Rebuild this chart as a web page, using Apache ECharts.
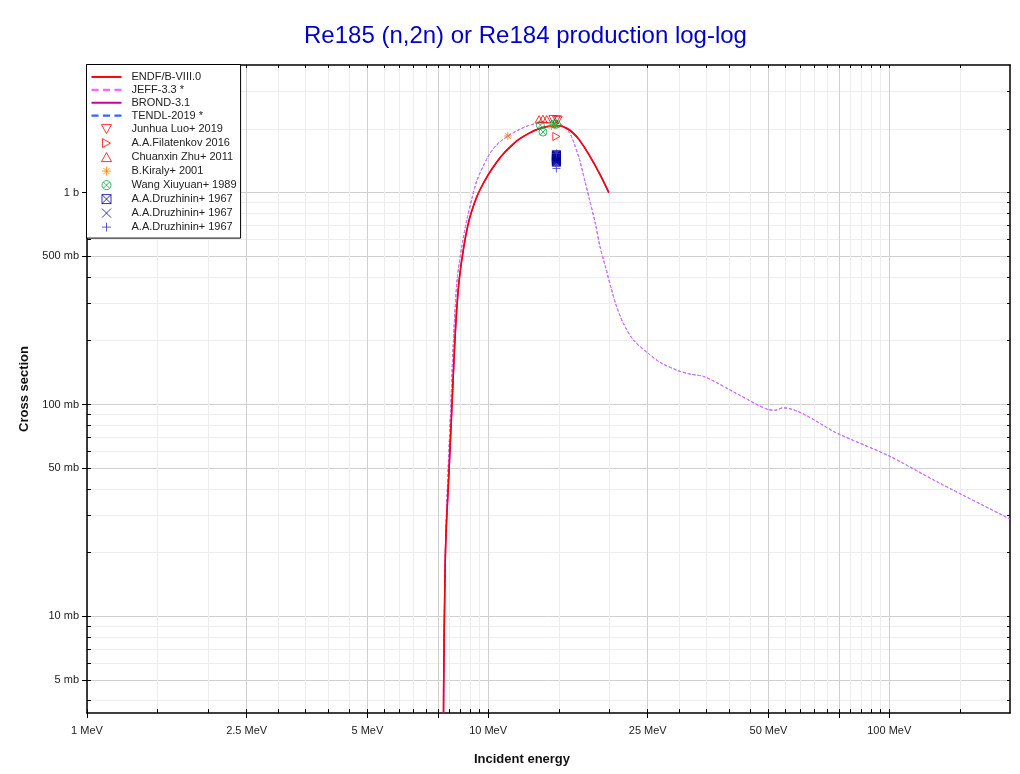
<!DOCTYPE html>
<html>
<head>
<meta charset="utf-8">
<script src="https://cdn.jsdelivr.net/npm/echarts@6/dist/echarts.min.js"></script>
<style>
html,body{margin:0;padding:0;background:#fff;}
#chart{width:1020px;height:774px;}
</style>
</head>
<body>
<div id="chart"></div>
<script>
// ---------------- data (energy in MeV, cross section in mb) ----------------
const endfE = [7.72, 7.745, 7.8, 7.85, 7.97, 8.11, 8.25, 8.34, 8.47, 8.7, 8.97, 9.27, 9.53, 10.0, 10.5, 11.0, 11.6, 12.0, 12.7, 13.5, 14.2, 15.0, 15.7, 16.3, 16.9, 17.9, 19.0, 20.0];
const endfS = [0.5, 4.4, 14, 24, 44, 91, 188, 270, 388, 557, 744, 906, 1026, 1212, 1390, 1548, 1707, 1795, 1914, 2010, 2056, 2067, 2011, 1909, 1768, 1495, 1220, 1000];

const brondE = [7.72, 7.745, 7.8, 7.85, 7.97, 8.11, 8.25, 8.34, 8.47, 8.7, 8.97, 9.27, 9.53, 10.0, 10.5, 11.0, 11.6, 12.0, 12.7, 13.5, 14.2, 15.0, 15.7, 16.3, 16.9, 17.9, 19.0, 20.0];
const brondS = [0.5, 4.4, 14, 24, 44, 91, 188, 270, 388, 557, 744, 906, 1026, 1212, 1390, 1548, 1707, 1795, 1914, 2010, 2056, 2067, 2011, 1909, 1768, 1495, 1220, 1000];

const jeffE = [7.72, 7.745, 7.8, 7.85, 7.95, 8.06, 8.18, 8.37, 8.6, 8.85, 9.14, 9.39, 10.0, 10.5, 11.2, 12.0, 12.7, 13.7, 14.5, 15.1, 15.6, 16.0, 16.4, 16.9, 17.4, 17.9, 18.5, 19.0, 19.6, 20.2, 20.9, 21.7, 23.0, 25.0, 27.0, 29.9, 32.0, 34.7, 41.5, 49.9, 52.0, 54.3, 75.1, 100, 133, 200];
const jeffS = [0.5, 4.4, 15, 26, 50, 91, 188, 388, 557, 744, 960, 1148, 1480, 1680, 1850, 1990, 2080, 2140, 2140, 2110, 2000, 1900, 1700, 1430, 1150, 924, 718, 557, 448, 361, 290, 243, 202, 175, 157, 144, 139, 135, 113, 94.7, 94.0, 96.4, 72.3, 57.1, 42.7, 28.8];

const tendlE = [7.72, 7.745, 7.8, 7.85, 7.95, 8.06, 8.18, 8.37, 8.6, 8.85, 9.14, 9.39, 10.0, 10.5, 11.2, 12.0, 12.7, 13.7, 14.5, 15.1, 15.6, 16.0, 16.4, 16.9, 17.4, 17.9, 18.5, 19.0, 19.6, 20.2, 20.9, 21.7, 23.0, 25.0, 27.0, 29.9, 32.0, 34.7, 41.5, 49.9, 52.0, 54.3, 75.1, 100, 133, 200];
const tendlS = [0.5, 4.4, 15, 26, 50, 91, 188, 388, 557, 744, 960, 1148, 1480, 1680, 1850, 1990, 2080, 2140, 2140, 2110, 2000, 1900, 1700, 1430, 1150, 924, 718, 557, 448, 361, 290, 243, 202, 175, 157, 144, 139, 135, 113, 94.7, 94.0, 96.4, 72.3, 57.1, 42.7, 28.8];

const luoE = [14.5, 14.8, 14.95];
const luoS = [2220, 2215, 2205];
const filatE = [14.8];
const filatS = [1840];
const zhuE = [13.4, 13.7, 14.0];
const zhuS = [2220, 2230, 2220];
const kiralyE = [11.2, 14.4, 14.7];
const kiralyS = [1850, 2060, 2080];
const wangE = [13.5, 13.7, 14.6, 14.8];
const wangS = [2080, 1930, 2110, 2100];
const druz1E = [14.8, 14.8, 14.8, 14.8, 14.8, 14.8, 14.8, 14.8, 14.8];
const druz1S = [1510, 1495, 1480, 1465, 1450, 1435, 1420, 1405, 1390];
const druz2E = [14.8];
const druz2S = [1465];
const druz3E = [14.8, 14.8];
const druz3S = [1530, 1300];

// ---------------- axes ----------------
const xRange = [1, 200];
const yRange = [3.5, 4000];
const xLabelTicks = [1, 2.5, 5, 10, 25, 50, 100];
const xMajorTicks = [1, 2.5, 5, 7.5, 10, 25, 50, 75, 100];
const xMinorTicks = [1.5, 2, 3, 3.5, 4, 4.5, 5.5, 6, 6.5, 7, 8, 8.5, 9, 9.5, 15, 20, 30, 35, 40, 45, 55, 60, 65, 70, 80, 85, 90, 95, 150];
const yLabelTicks = [5, 10, 50, 100, 500, 1000];
const yMinorTicks = [4, 6, 7, 8, 9, 20, 30, 40, 60, 70, 80, 90, 200, 300, 400, 600, 700, 800, 900, 2000, 3000];

const FONT = '"Liberation Sans", Arial, Helvetica, sans-serif';
const L = v => Math.log10(v);
const pairs = (xs, ys) => xs.map((x, i) => [x, ys[i]]);

const fmtX = v => (Math.round(Math.pow(10, v) * 100) / 100) + ' MeV';
const fmtY = v => { const s = Math.round(Math.pow(10, v) * 100) / 100; return s >= 1000 ? (s / 1000) + ' b' : s + ' mb'; };

function helper(base, extra) {
  return Object.assign({
    type: 'value', gridIndex: 0, silent: true,
    axisLine: {show: false}, axisTick: {show: false},
    axisLabel: {show: false}, splitLine: {show: false}
  }, base, extra);
}
const xb = {min: L(xRange[0]), max: L(xRange[1])};
const yb = {min: L(yRange[0]), max: L(yRange[1])};
const AX_LINE = {show: true, lineStyle: {color: '#000', width: 1.5}};

const xAxes = [
  {type: 'log', logBase: 10, min: xRange[0], max: xRange[1], gridIndex: 0, position: 'bottom',
   axisLine: {show: false}, axisTick: {show: false}, axisLabel: {show: false}, splitLine: {show: false}},
  helper(xb, {position: 'bottom', axisLine: AX_LINE,
    axisTick: {show: true, inside: false, length: 5, customValues: xMajorTicks.map(L), lineStyle: {color: '#000', width: 1}},
    axisLabel: {show: true, customValues: xLabelTicks.map(L), formatter: fmtX, margin: 12, fontSize: 11, color: '#222', fontFamily: FONT},
    splitLine: {show: true, lineStyle: {color: '#d0d0d0', width: 1}},
    name: 'Incident energy', nameLocation: 'middle', nameGap: 40,
    nameTextStyle: {fontSize: 13, fontWeight: 'bold', color: '#111', fontFamily: FONT, padding: [0, 53, 0, 0]}}),
  helper(xb, {position: 'bottom',
    axisTick: {show: true, inside: true, length: 4, customValues: xMajorTicks.map(L), lineStyle: {color: '#000', width: 1}}}),
  helper(xb, {position: 'bottom',
    axisTick: {show: true, inside: true, length: 4, customValues: xMinorTicks.map(L), lineStyle: {color: '#000', width: 1}},
    splitLine: {show: true, lineStyle: {color: '#ededed', width: 1}}}),
  helper(xb, {position: 'top', axisLine: AX_LINE,
    axisTick: {show: true, inside: true, length: 3, customValues: xMajorTicks.concat(xMinorTicks).map(L), lineStyle: {color: '#000', width: 1}}})
];

const yAxes = [
  {type: 'log', logBase: 10, min: yRange[0], max: yRange[1], gridIndex: 0, position: 'left',
   axisLine: {show: false}, axisTick: {show: false}, axisLabel: {show: false}, splitLine: {show: false}},
  helper(yb, {position: 'left', axisLine: AX_LINE,
    axisTick: {show: true, inside: false, length: 5, customValues: yLabelTicks.map(L), lineStyle: {color: '#000', width: 1}},
    axisLabel: {show: true, customValues: yLabelTicks.map(L), formatter: fmtY, margin: 8, fontSize: 11, color: '#222', fontFamily: FONT},
    splitLine: {show: true, lineStyle: {color: '#d0d0d0', width: 1}},
    name: 'Cross section', nameLocation: 'middle', nameGap: 53,
    nameTextStyle: {fontSize: 13, fontWeight: 'bold', color: '#111', fontFamily: FONT}}),
  helper(yb, {position: 'left',
    axisTick: {show: true, inside: true, length: 4, customValues: yLabelTicks.map(L), lineStyle: {color: '#000', width: 1}}}),
  helper(yb, {position: 'left',
    axisTick: {show: true, inside: true, length: 4, customValues: yMinorTicks.map(L), lineStyle: {color: '#000', width: 1}},
    splitLine: {show: true, lineStyle: {color: '#ededed', width: 1}}}),
  helper(yb, {position: 'right', axisLine: AX_LINE,
    axisTick: {show: true, inside: true, length: 3, customValues: yLabelTicks.concat(yMinorTicks).map(L), lineStyle: {color: '#000', width: 1}}})
];

// ---------------- symbols ----------------
const SYM = {
  down: 'path://M0,0L10,0L5,9Z',
  right: 'path://M0,0L9,5L0,10Z',
  up: 'path://M5,0L10,9L0,9Z',
  star: 'path://M5,0L5,10M0,5L10,5M1.5,1.5L8.5,8.5M8.5,1.5L1.5,8.5',
  circX: 'path://M10,5A5,5,0,1,1,0,5A5,5,0,1,1,10,5ZM1.5,1.5L8.5,8.5M8.5,1.5L1.5,8.5',
  boxX: 'path://M0,0L10,0L10,10L0,10ZM0,0L10,10M10,0L0,10',
  cross: 'path://M0,0L10,10M10,0L0,10',
  plus: 'path://M5,0L5,10M0,5L10,5'
};
const ICON_SOLID = 'path://M0,0H30V2H0Z';
const ICON_DASH = 'path://M0,0H6.5V2H0ZM10.5,0H17V2H10.5ZM21,0H27.5V2H21Z';

function lineSeries(name, xs, ys, color, width, dash, z) {
  return {
    name, type: 'line', xAxisIndex: 0, yAxisIndex: 0, data: pairs(xs, ys),
    symbol: 'none', showSymbol: false, smooth: 0.3, clip: true, z,
    lineStyle: {color, width, type: dash || 'solid'}, itemStyle: {color},
    emphasis: {disabled: true}, animation: false
  };
}
function pointSeries(name, xs, ys, color, sym, size) {
  return {
    name, type: 'scatter', xAxisIndex: 0, yAxisIndex: 0, data: pairs(xs, ys),
    symbol: sym, symbolSize: size, symbolKeepAspect: true, z: 6,
    itemStyle: {color: 'none', borderColor: color, borderWidth: 1},
    emphasis: {disabled: true}, animation: false
  };
}

const series = [
  lineSeries('TENDL-2019 *', tendlE, tendlS, '#3366ff', 1, [3, 2], 2),
  lineSeries('JEFF-3.3 *', jeffE, jeffS, '#ff66ff', 1, [3, 2], 3),
  lineSeries('BROND-3.1', brondE, brondS, '#cc0099', 1.5, null, 4),
  lineSeries('ENDF/B-VIII.0', endfE, endfS, '#ff0000', 1.5, null, 5),
  pointSeries('Junhua Luo+ 2019', luoE, luoS, '#ff0000', SYM.down, 8),
  pointSeries('A.A.Filatenkov 2016', filatE, filatS, '#ff0000', SYM.right, 8),
  pointSeries('Chuanxin Zhu+ 2011', zhuE, zhuS, '#ff0000', SYM.up, 8),
  pointSeries('B.Kiraly+ 2001', kiralyE, kiralyS, '#ff8000', SYM.star, 8),
  pointSeries('Wang Xiuyuan+ 1989', wangE, wangS, '#00aa44', SYM.circX, 8),
  pointSeries('A.A.Druzhinin+ 1967', druz1E, druz1S, '#000099', SYM.boxX, 8),
  pointSeries('A.A.Druzhinin+ 1967 ', druz2E, druz2S, '#0000cc', SYM.cross, 8),
  pointSeries('A.A.Druzhinin+ 1967  ', druz3E, druz3S, '#3333cc', SYM.plus, 8)
];

const legendData = [
  {name: 'ENDF/B-VIII.0', icon: ICON_SOLID, itemStyle: {color: '#ff0000', borderWidth: 0}},
  {name: 'JEFF-3.3 *', icon: ICON_DASH, itemStyle: {color: '#ff66ff', borderWidth: 0}},
  {name: 'BROND-3.1', icon: ICON_SOLID, itemStyle: {color: '#cc0099', borderWidth: 0}},
  {name: 'TENDL-2019 *', icon: ICON_DASH, itemStyle: {color: '#3366ff', borderWidth: 0}},
  {name: 'Junhua Luo+ 2019'}, {name: 'A.A.Filatenkov 2016'}, {name: 'Chuanxin Zhu+ 2011'},
  {name: 'B.Kiraly+ 2001'}, {name: 'Wang Xiuyuan+ 1989'}, {name: 'A.A.Druzhinin+ 1967'},
  {name: 'A.A.Druzhinin+ 1967 '}, {name: 'A.A.Druzhinin+ 1967  '}
];

const chart = echarts.init(document.getElementById('chart'), null, {renderer: 'canvas'});
chart.setOption({
  animation: false,
  backgroundColor: '#ffffff',
  textStyle: {fontFamily: FONT},
  title: {
    text: 'Re185 (n,2n) or Re184 production log-log',
    left: 299, top: 19,
    textStyle: {fontSize: 24, fontWeight: 'normal', color: '#0000cc', fontFamily: FONT}
  },
  grid: {left: 87, right: 10, top: 65, bottom: 61, containLabel: false, outerBoundsMode: 'none'},
  xAxis: xAxes,
  yAxis: yAxes,
  legend: {
    orient: 'vertical', left: 86.5, top: 64.5,
    padding: [6, 4, 4, 5],
    backgroundColor: '#ffffff', borderColor: '#000', borderWidth: 1,
    itemWidth: 30, itemHeight: 9, itemGap: 0,
    selectedMode: false, z: 20,
    itemStyle: {borderWidth: 1},
    textStyle: {fontSize: 11, lineHeight: 12.9, color: '#222', fontFamily: FONT, padding: [0, 0, 0, 5]},
    formatter: n => n.trim(),
    data: legendData
  },
  series
});
</script>
</body>
</html>
